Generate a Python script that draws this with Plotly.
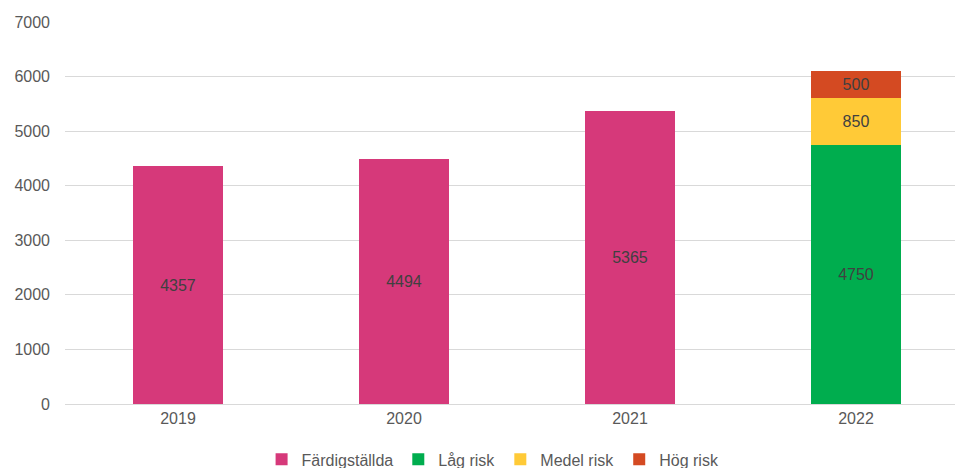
import plotly.graph_objects as go

years = ["2019", "2020", "2021", "2022"]
fardig = [4357, 4494, 5365, None]
lag = [None, None, None, 4750]
medel = [None, None, None, 850]
hog = [None, None, None, 500]

names = ["Färdigställda", "Låg risk", "Medel risk", "Hög risk"]
colors = ["#D6397A", "#00AD4E", "#FFCA37", "#D44A22"]
series = [fardig, lag, medel, hog]

fig = go.Figure()
for n, c, s in zip(names, colors, series):
    fig.add_trace(go.Bar(
        x=years, y=s, name=n, marker=dict(color=c, line=dict(width=0)),
        width=0.394,
        text=[str(v) if v is not None else "" for v in s],
        textposition="inside", insidetextanchor="middle",
        textfont=dict(color="#404040", size=16, family="Liberation Sans, Arial"),
        hoverinfo="skip",
    ))

fig.update_layout(
    barmode="stack",
    width=955, height=468,
    margin=dict(l=65, r=0, t=22, b=64, autoexpand=False),
    paper_bgcolor="white", plot_bgcolor="white",
    font=dict(family="Liberation Sans, Arial", size=16, color="#595959"),
    uniformtext=dict(minsize=16, mode="show"),
    xaxis=dict(type="category", range=[-0.5, 3.438], showgrid=False,
               showline=True, linecolor="#D9D9D9", linewidth=1, automargin=False,
               ticks="", tickfont=dict(size=16, color="#595959")),
    yaxis=dict(range=[0, 7000], dtick=1000, showgrid=True, gridcolor="#D9D9D9",
               gridwidth=1, zeroline=False, showline=False, ticks="", automargin=False,
               ticklabelstandoff=14, tickfont=dict(size=16, color="#595959")),
    legend=dict(orientation="h", x=0.481, xanchor="center", y=-0.145, yanchor="middle",
                font=dict(size=16, color="#595959"), itemwidth=30,
                traceorder="normal"),
)
fig.write_html(
    "out.html",
    config={"displayModeBar": False},
    post_script="document.body.style.margin='0';document.body.style.overflow='hidden';",
)
